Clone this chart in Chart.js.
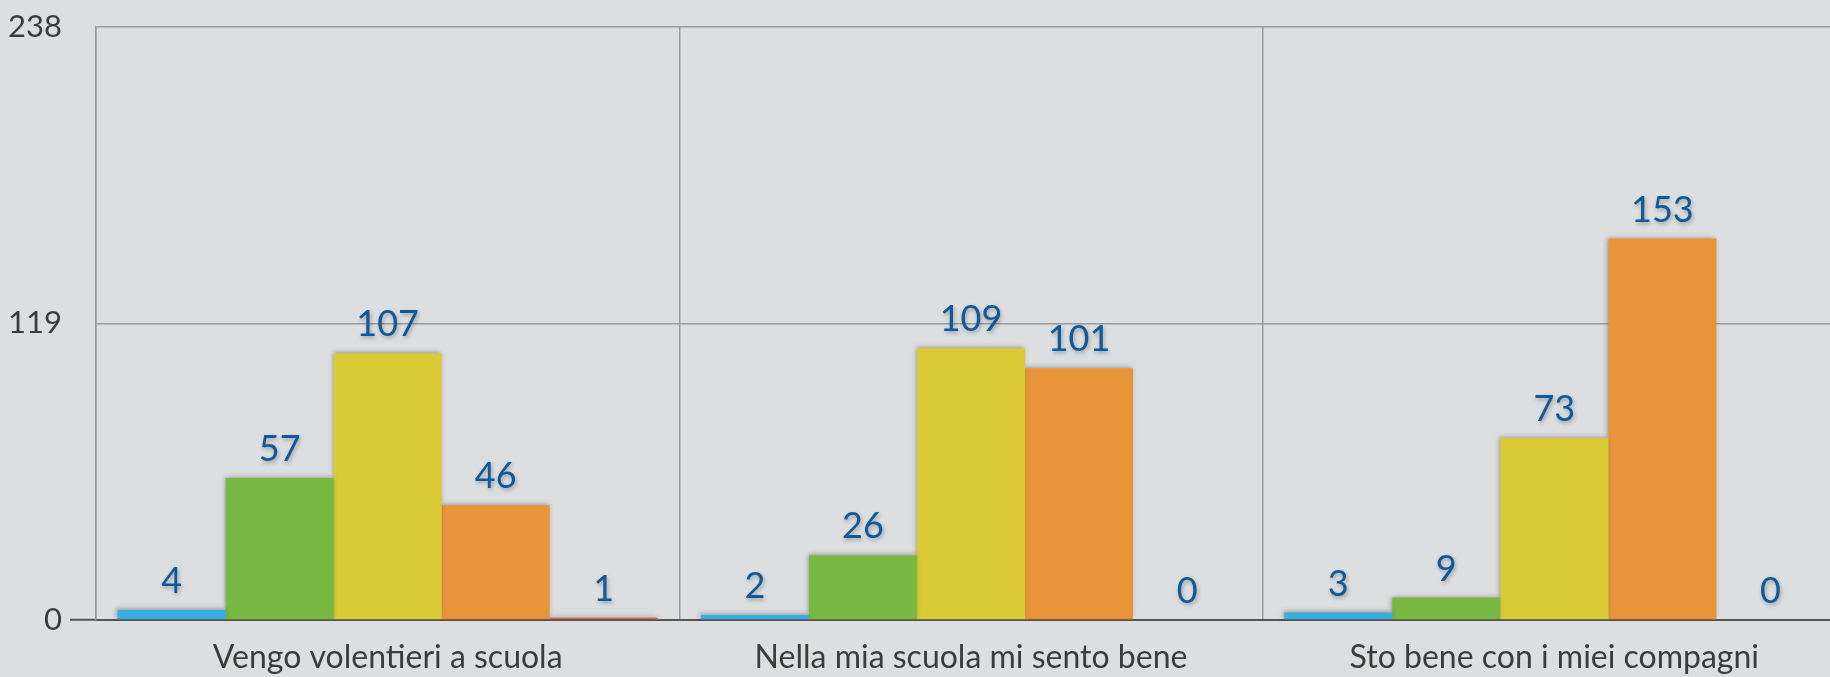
<!DOCTYPE html>
<html>
<head>
<meta charset="utf-8">
<script src="https://cdn.jsdelivr.net/npm/chart.js@4.4.1/dist/chart.umd.min.js"></script>
<style>
  html, body { margin: 0; padding: 0; overflow: hidden; background: #dddedf; }
  .wrap { position: relative; width: 1846px; height: 677px; }
</style>
</head>
<body>
<div class="wrap"><canvas id="chart"></canvas></div>
<script>
// domande (categorie) e risposte per serie
const categories = ['Vengo volentieri a scuola', 'Nella mia scuola mi sento bene', 'Sto bene con i miei compagni'];
const seriesNames = ['Per niente', 'Poco', 'Abbastanza', 'Molto', 'Non risponde'];
const bluValues = [4, 2, 3];
const verdeValues = [57, 26, 9];
const gialloValues = [107, 109, 73];
const aranceValues = [46, 101, 153];
const rossoValues = [1, 0, 0];
const yTicks = [0, 119, 238];

const colors = ['#38ade2', '#78b843', '#d9ca36', '#e8953a', '#d8685a'];
const seriesValues = [bluValues, verdeValues, gialloValues, aranceValues, rossoValues];

const FONT = 'Lato, "Open Sans", sans-serif';

// ombra sotto le barre
const barShadow = {
  id: 'barShadow',
  beforeDatasetsDraw(chart) {
    const ctx = chart.ctx;
    ctx.save();
    ctx.shadowColor = 'rgba(0,0,0,0.35)';
    ctx.shadowBlur = 5;
    ctx.shadowOffsetX = -1;
    ctx.shadowOffsetY = -1;
  },
  afterDatasetsDraw(chart) {
    chart.ctx.restore();
  }
};

// etichette dei valori sopra le barre
const valueLabels = {
  id: 'valueLabels',
  afterDatasetsDraw(chart) {
    const ctx = chart.ctx;
    ctx.save();
    ctx.font = '36px ' + FONT;
    ctx.fillStyle = '#0e5a9c';
    ctx.textAlign = 'center';
    ctx.textBaseline = 'alphabetic';
    ctx.shadowColor = 'rgba(0,0,0,0.3)';
    ctx.shadowBlur = 4;
    ctx.shadowOffsetX = 1;
    ctx.shadowOffsetY = 2;
    chart.data.datasets.forEach((ds, i) => {
      chart.getDatasetMeta(i).data.forEach((bar, j) => {
        ctx.fillText(String(ds.data[j]), bar.x, bar.y - 17);
      });
    });
    ctx.restore();
  }
};

new Chart(document.getElementById('chart'), {
  type: 'bar',
  data: {
    labels: categories,
    datasets: seriesNames.map((name, i) => ({
      label: name,
      data: seriesValues[i],
      backgroundColor: colors[i],
      borderWidth: 0,
      categoryPercentage: 0.926,
      barPercentage: 1
    }))
  },
  options: {
    responsive: true,
    maintainAspectRatio: false,
    animation: false,
    layout: { padding: { top: 26, right: 0, left: 0, bottom: 0 } },
    plugins: {
      legend: { display: false },
      tooltip: { enabled: false }
    },
    scales: {
      x: {
        grid: { color: '#9a9a9a', lineWidth: 1.5, offset: true, drawTicks: false },
        border: { color: '#555', width: 2 },
        ticks: { color: '#3c3c3c', font: { family: FONT, size: 32 }, padding: 18 },
        afterFit(scale) { scale.height = 57; }
      },
      y: {
        min: 0,
        max: 238,
        afterBuildTicks(scale) { scale.ticks = yTicks.map(v => ({ value: v })); },
        grid: {
          color: '#9a9a9a',
          lineWidth: 1.5,
          tickLength: 26,
          tickColor: c => c.tick && c.tick.value === 0 ? '#555' : 'rgba(0,0,0,0)',
          tickWidth: 2
        },
        border: { color: '#9a9a9a', width: 1.5 },
        ticks: { color: '#3c3c3c', font: { family: FONT, size: 31 }, padding: 8 },
        afterFit(scale) { scale.width = 96; }
      }
    }
  },
  plugins: [barShadow, valueLabels]
});
</script>
</body>
</html>
